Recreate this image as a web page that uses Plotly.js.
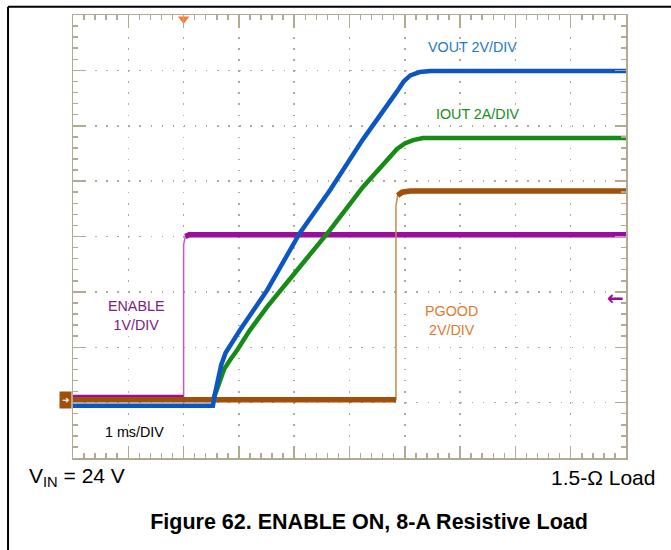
<!DOCTYPE html>
<html>
<head>
<meta charset="utf-8">
<script src="https://cdn.plot.ly/plotly-3.0.1.min.js"></script>
<style>
  html, body { margin: 0; padding: 0; background: #ffffff; }
  #chart { width: 671px; height: 550px; }
</style>
</head>
<body>
<div id="chart"></div>
<script>
// ---- data (time in ms = divisions, amplitude in divisions from bottom) ----
const enableT = [0, 2.0, 2.0, 2.03, 2.1, 10];
const enableV = [1.12, 1.12, 3.85, 4.0, 4.03, 4.03];

const pgoodT = [0, 5.84, 5.84, 5.87, 5.95, 6.1, 10];
const pgoodV = [1.05, 1.05, 4.55, 4.74, 4.80, 4.82, 4.82];

const voutT = [0, 2.53, 2.57, 2.62, 2.68, 2.76, 2.88, 3.02, 3.51, 4.10, 4.65, 4.83, 5.24, 5.86, 5.98, 6.10, 6.27, 6.46, 10];
const voutV = [0.945, 0.945, 1.17, 1.45, 1.68, 1.90, 2.10, 2.31, 3.03, 4.06, 4.84, 5.12, 5.75, 6.62, 6.80, 6.91, 6.97, 6.99, 6.99];

const ioutT = [0, 2.53, 2.60, 2.66, 2.73, 2.84, 2.97, 3.20, 3.51, 4.10, 4.65, 5.24, 5.86, 6.00, 6.15, 6.33, 10];
const ioutV = [1.05, 1.05, 1.23, 1.42, 1.60, 1.77, 1.95, 2.31, 2.73, 3.45, 4.12, 4.89, 5.58, 5.68, 5.74, 5.78, 5.78];

const triggerT = [2.0];
const triggerV = [7.93];

const channelLabels = ['VOUT 2V/DIV', 'IOUT 2A/DIV', 'ENABLE<br>1V/DIV', 'PGOOD<br>2V/DIV', '1 ms/DIV'];
const vinLabel = 'V<sub>IN</sub> = 24 V';
const loadLabel = '1.5-Ω Load';
const figTitle = '<b>Figure 62. ENABLE ON, 8-A Resistive Load</b>';

// ---- styling ----
const FONT = 'Liberation Sans, Arial, sans-serif';
const FRAME = '#b3aa93';
const C_EN = '#9b0d9b', C_EN_EDGE = '#c45ac6';
const C_PG = '#a0500a', C_PG_EDGE = '#c98a4e';
const C_VO = '#0b56c2';
const C_IO = '#168c16';

const traces = [
  {x: enableT, y: enableV, mode: 'lines', line: {color: C_EN_EDGE, width: 1.5}, hoverinfo: 'skip'},
  {x: enableT.slice(0, 2), y: enableV.slice(0, 2), mode: 'lines', line: {color: C_EN, width: 2.5}, hoverinfo: 'skip'},
  {x: enableT.slice(3), y: enableV.slice(3), mode: 'lines', line: {color: C_EN, width: 5.5}, hoverinfo: 'skip'},
  {x: ioutT, y: ioutV, mode: 'lines', line: {color: C_IO, width: 4.5}, hoverinfo: 'skip'},
  {x: pgoodT, y: pgoodV, mode: 'lines', line: {color: C_PG_EDGE, width: 1.5}, hoverinfo: 'skip'},
  {x: pgoodT.slice(0, 2), y: pgoodV.slice(0, 2), mode: 'lines', line: {color: C_PG, width: 5.5}, hoverinfo: 'skip'},
  {x: pgoodT.slice(3), y: pgoodV.slice(3), mode: 'lines', line: {color: C_PG, width: 5.5}, hoverinfo: 'skip'},
  {x: voutT, y: voutV, mode: 'lines', line: {color: C_VO, width: 4.5}, hoverinfo: 'skip'},
  {x: triggerT, y: triggerV, mode: 'markers', marker: {symbol: 'triangle-down', size: 10, color: '#ff7a2a'}, cliponaxis: false, hoverinfo: 'skip'}
];

const frameAxis = {
  range: [0, 10], dtick: 1, tick0: 0,
  showgrid: true, gridcolor: FRAME, gridwidth: 1.5, griddash: '1.5px,9.56px',
  zeroline: false, showline: true, linecolor: FRAME, linewidth: 1.5, mirror: 'allticks',
  ticks: 'inside', ticklen: 11, tickcolor: FRAME, tickwidth: 1.5,
  showticklabels: false, fixedrange: true,
  minor: {dtick: 0.2, tick0: 0, ticks: 'inside', ticklen: 5, tickcolor: FRAME, tickwidth: 1.5, showgrid: false}
};
const yFrame = Object.assign({}, frameAxis, {range: [0, 8], griddash: '1.5px,9.58px'});

function centerAxis(over, range, ticks) {
  return {
    overlaying: over, anchor: 'free', position: 0.5, range: range,
    dtick: 0.2, tick0: 0, ticks: ticks, ticklen: 5, tickcolor: FRAME, tickwidth: 1.5,
    showline: true, linecolor: FRAME, linewidth: 1.5,
    showgrid: false, zeroline: false, showticklabels: false, fixedrange: true
  };
}

const annFont = (c, s) => ({family: FONT, size: s || 14.3, color: c});

const layout = {
  width: 671, height: 550,
  margin: {l: 73, r: 45, t: 15, b: 92, pad: 0},
  paper_bgcolor: '#ffffff', plot_bgcolor: '#ffffff',
  showlegend: false,
  xaxis: frameAxis,
  yaxis: yFrame,
  xaxis2: centerAxis('x', [0, 10], 'inside'),
  xaxis3: centerAxis('x', [0, 10], 'outside'),
  yaxis2: centerAxis('y', [0, 8], 'inside'),
  yaxis3: centerAxis('y', [0, 8], 'outside'),
  title: {
    text: figTitle, font: {family: FONT, size: 21.5, color: '#000000'},
    xref: 'container', yref: 'container', x: 0.55, y: 0.051, xanchor: 'center', yanchor: 'middle'
  },
  annotations: [
    {x: 7.23, y: 7.42, xref: 'x', yref: 'y', text: channelLabels[0], showarrow: false, font: annFont('#1f78c8')},
    {x: 7.32, y: 6.21, xref: 'x', yref: 'y', text: channelLabels[1], showarrow: false, font: annFont('#1a8c1a')},
    {x: 1.14, y: 2.58, xref: 'x', yref: 'y', text: channelLabels[2], showarrow: false, font: annFont('#7a2280')},
    {x: 6.84, y: 2.49, xref: 'x', yref: 'y', text: channelLabels[3], showarrow: false, font: annFont('#e07a2e')},
    {x: 1.12, y: 0.47, xref: 'x', yref: 'y', text: channelLabels[4], showarrow: false, font: annFont('#000000')},
    {x: -0.0832, y: -0.043, xref: 'paper', yref: 'paper', xanchor: 'left', yanchor: 'middle', text: vinLabel, showarrow: false, font: {family: FONT, size: 21, color: '#000000'}},
    {x: 1.056, y: -0.043, xref: 'paper', yref: 'paper', xanchor: 'right', yanchor: 'middle', text: loadLabel, showarrow: false, font: {family: FONT, size: 21, color: '#000000'}},
    // channel ground marker (PGOOD reference)
    {x: -0.001, y: 1.05, xref: 'paper', yref: 'y', xanchor: 'right', yanchor: 'middle', text: '➜', showarrow: false,
     bgcolor: C_PG, width: 11, height: 16, borderpad: 0, font: {family: FONT, size: 9, color: '#ffffff'}},
    // ENABLE trigger level marker
    {x: 1.0, y: 2.89, xref: 'paper', yref: 'y', xanchor: 'right', yanchor: 'middle', text: '<b>←</b>', showarrow: false,
     font: {family: 'DejaVu Sans, sans-serif', size: 20, color: C_EN}}
  ],
  shapes: [
    {type: 'line', xref: 'paper', yref: 'paper', x0: -0.1175, x1: -0.1175, y0: 1.0185, y1: -0.25, line: {color: '#000000', width: 2}},
    {type: 'line', xref: 'paper', yref: 'paper', x0: -0.1175, x1: 1.09, y0: 1.0185, y1: 1.0185, line: {color: '#000000', width: 2}}
  ]
};

Plotly.newPlot('chart', traces, layout, {staticPlot: true, displayModeBar: false});
</script>
</body>
</html>
